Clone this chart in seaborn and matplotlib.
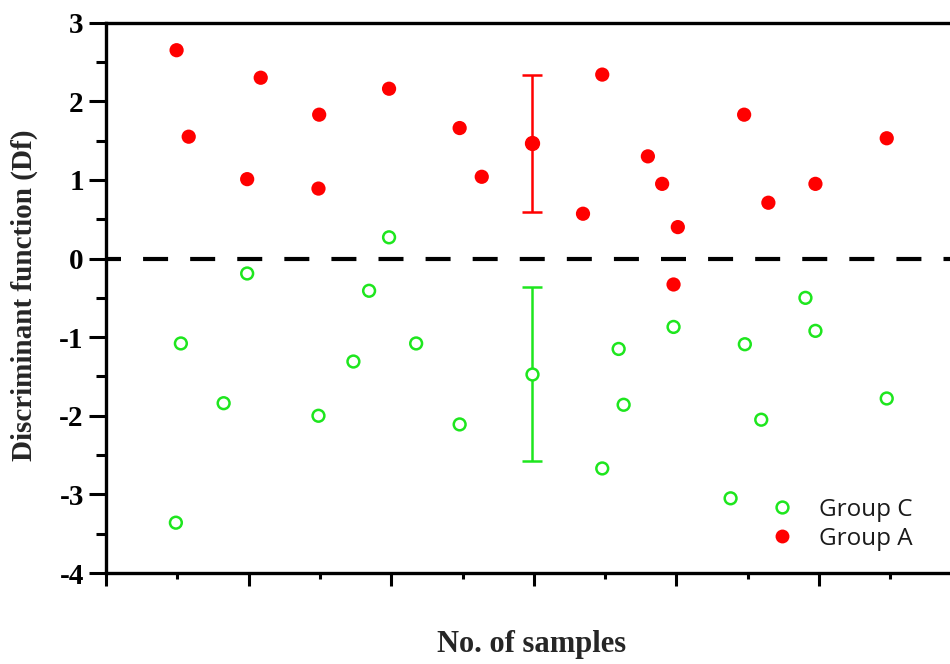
import numpy as np
import pandas as pd
import seaborn as sns
import matplotlib
matplotlib.use("Agg")
import matplotlib.pyplot as plt
from matplotlib.lines import Line2D
from matplotlib.ticker import MultipleLocator, NullFormatter

# Discriminant function scores per sample
group_a_x = [0.99, 1.16, 2.17, 1.98, 2.99, 2.98, 3.97, 4.96, 5.27, 6.69,
             6.96, 7.60, 7.80, 8.02, 7.96, 8.95, 9.29, 9.95, 10.95]
group_a_df = [2.65, 1.55, 2.30, 1.01, 1.83, 0.89, 2.16, 1.66, 1.04, 0.57,
              2.34, 1.30, 0.95, 0.40, -0.33, 1.83, 0.71, 0.95, 1.53]

group_c_x = [0.98, 1.05, 1.65, 1.98, 2.98, 3.47, 3.69, 3.97, 4.35, 4.96,
             6.96, 7.19, 7.26, 7.96, 8.76, 8.96, 9.19, 9.81, 9.95, 10.95]
group_c_df = [-3.36, -1.08, -1.84, -0.19, -2.00, -1.31, -0.41, 0.27, -1.08, -2.11,
              -2.67, -1.15, -1.86, -0.87, -3.05, -1.09, -2.05, -0.50, -0.92, -1.78]

# Group means with spread
mean_x = 5.97
group_a_mean, group_a_err = 1.465, 0.875
group_c_mean, group_c_err = -1.47, 1.11

RED = "#ff0000"
GREEN = "#1ee61e"

df_a = pd.DataFrame({"sample": group_a_x, "Df": group_a_df})
df_c = pd.DataFrame({"sample": group_c_x, "Df": group_c_df})

sns.set_style("white")
plt.rcParams["font.family"] = ["Liberation Serif", "DejaVu Serif"]
plt.rcParams["axes.unicode_minus"] = False

fig = plt.figure(figsize=(9.5, 6.64), dpi=100)
ax = fig.add_axes([106 / 950, 1 - 573 / 664, 12 * 71.3 / 950, (573 - 22.7) / 664])

ax.axhline(0, color="black", lw=3, linestyle=(2.4, (6, 5.3)), zorder=1)

sns.scatterplot(data=df_a, x="sample", y="Df", ax=ax, color=RED, s=105,
                edgecolor="none", marker="o", zorder=3, legend=False)
sns.scatterplot(data=df_c, x="sample", y="Df", ax=ax, s=72, marker="o",
                facecolors="none", edgecolor=GREEN, linewidth=1.8, zorder=3,
                legend=False)

ax.errorbar(mean_x, group_a_mean, yerr=group_a_err, fmt="o", color=RED,
            markersize=10, elinewidth=1.8, capsize=7, capthick=1.8, zorder=4)
ax.errorbar(mean_x, group_c_mean, yerr=group_c_err, fmt="o", color=GREEN,
            mfc="white", mec=GREEN, mew=1.8, markersize=8.5,
            elinewidth=1.8, capsize=7, capthick=1.8, zorder=4)

ax.set_xlim(0, 12)
ax.set_ylim(-4, 3)

ax.xaxis.set_major_locator(MultipleLocator(2))
ax.xaxis.set_minor_locator(MultipleLocator(1))
ax.xaxis.set_major_formatter(NullFormatter())
ax.yaxis.set_major_locator(MultipleLocator(1))
ax.yaxis.set_minor_locator(MultipleLocator(0.5))

for side in ["left", "bottom", "top"]:
    ax.spines[side].set_linewidth(2.4)
    ax.spines[side].set_color("black")
ax.spines["right"].set_visible(False)

ax.tick_params(axis="y", which="major", direction="out", length=12, width=2.2,
               pad=4, labelsize=21, colors="black", left=True, right=False)
ax.tick_params(axis="y", which="minor", direction="out", length=7, width=2.2,
               color="black", left=True, right=False)
ax.tick_params(axis="x", which="major", direction="out", length=9, width=2.2,
               color="black", bottom=True, top=False)
ax.tick_params(axis="x", which="minor", direction="out", length=4.5, width=2.2,
               color="black", bottom=True, top=False)
for lab in ax.get_yticklabels():
    lab.set_fontweight("bold")

ax.set_xlabel("No. of samples", fontsize=22, fontweight="bold")
ax.set_ylabel("Discriminant function (Df)", fontsize=21, fontweight="bold")
ax.xaxis.set_label_coords((532 - 106) / (12 * 71.3), -(630 - 573) / (573 - 22.7))
ax.yaxis.set_label_coords(-(106 - 38) / (12 * 71.3), (573 - 295) / (573 - 22.7))

handles = [
    Line2D([], [], ls="none", marker="o", markersize=8.5, mfc="none",
           mec=GREEN, mew=1.8),
    Line2D([], [], ls="none", marker="o", markersize=10, mfc=RED, mec="none"),
]
leg = fig.legend(handles, ["Group C", "Group A"], loc="upper left",
                 bbox_to_anchor=(770 / 950, 1 - 498 / 664),
                 frameon=False, borderpad=0, borderaxespad=0,
                 handlelength=1.0, handletextpad=1.0, labelspacing=0.2,
                 prop={"family": "Open Sans", "size": 17.5})
for t in leg.get_texts():
    t.set_color("#1a1a1a")

fig.savefig("out.png", dpi=100, facecolor="white")
